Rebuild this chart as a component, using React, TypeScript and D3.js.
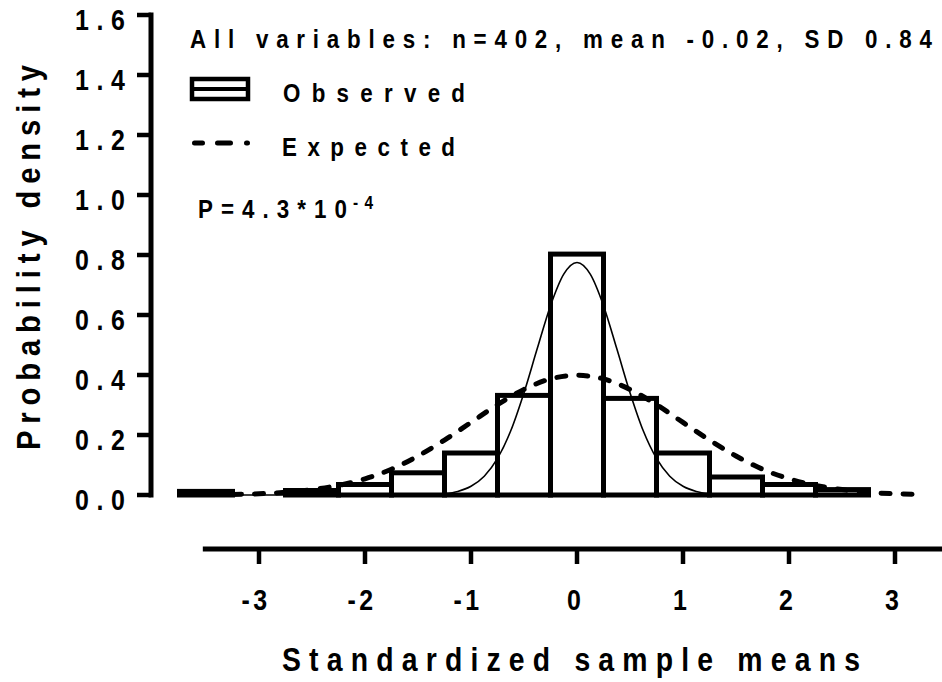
import React from "react";
import * as d3 from "d3";

// Histogram of standardized sample means (bin width 0.5)
const binCenters = [-3.5, -2.5, -2, -1.5, -1, -0.5, 0, 0.5, 1, 1.5, 2, 2.5];
const binDensity = [0.012, 0.015, 0.035, 0.074, 0.14, 0.332, 0.803, 0.322, 0.14, 0.06, 0.035, 0.018];

// Expected curve (standard normal density)
const expectedX = [-3.25, -3, -2.75, -2.5, -2.25, -2, -1.75, -1.5, -1.25, -1, -0.75, -0.5, -0.25, 0, 0.25, 0.5, 0.75, 1, 1.25, 1.5, 1.75, 2, 2.25, 2.5, 2.75, 3, 3.25];
const expectedY = [0.002, 0.004, 0.009, 0.018, 0.032, 0.054, 0.086, 0.13, 0.183, 0.242, 0.301, 0.352, 0.387, 0.399, 0.387, 0.352, 0.301, 0.242, 0.183, 0.13, 0.086, 0.054, 0.032, 0.018, 0.009, 0.004, 0.002];

// Fitted curve through the observed histogram
const fitX = [-3.5, -2.5, -2, -1.5, -1.375, -1.25, -1.125, -1, -0.875, -0.75, -0.625, -0.5, -0.375, -0.25, -0.125, 0, 0.125, 0.25, 0.375, 0.5, 0.625, 0.75, 0.875, 1, 1.125, 1.25, 1.375, 1.5, 2, 2.75];
const fitY = [0, 0, 0, 0.0005, 0.0015, 0.0045, 0.012, 0.029, 0.0625, 0.122, 0.214, 0.341, 0.488, 0.631, 0.736, 0.775, 0.736, 0.631, 0.488, 0.341, 0.214, 0.122, 0.0625, 0.029, 0.012, 0.0045, 0.0015, 0.0005, 0, 0];

const yTicks = [0, 0.2, 0.4, 0.6, 0.8, 1.0, 1.2, 1.4, 1.6];
const xTicks = [-3, -2, -1, 0, 1, 2, 3];

const titleText = "All variables: n=402, mean -0.02, SD 0.84";
const observedLabel = "Observed";
const expectedLabel = "Expected";
const pMain = "P=4.3*10";
const pExp = "-4";
const yTitle = "Probability density";
const xTitle = "Standardized sample means";

const W = 942;
const H = 682;
const FONT = "'Liberation Sans', Arial, Helvetica, sans-serif";
const SX = 0.86; // horizontal squeeze of the glyphs

// Bold text, squeezed horizontally and spread to a given overall width
function Label(props: {
  x: number;
  y: number;
  size: number;
  len?: number;
  anchor?: "start" | "middle" | "end";
  rotate?: number;
  spacing?: number;
  children: React.ReactNode;
}) {
  const { x, y, size, len, anchor = "start", rotate = 0, spacing = 0, children } = props;
  const t = `translate(${x},${y})${rotate ? ` rotate(${rotate})` : ""} scale(${SX},1)`;
  return (
    <text
      transform={t}
      fontSize={size}
      textAnchor={anchor}
      letterSpacing={spacing || undefined}
      textLength={len ? len / SX : undefined}
      lengthAdjust={len ? "spacing" : undefined}
    >
      {children}
    </text>
  );
}

export default function App() {
  const x = d3.scaleLinear().domain([-3, 3]).range([259, 895]);
  const y = d3.scaleLinear().domain([0, 1.6]).range([495, 15]);
  const half = 0.25;

  const line = d3
    .line<[number, number]>()
    .x((d) => x(d[0]))
    .y((d) => y(d[1]))
    .curve(d3.curveMonotoneX);

  const expectedPath = line(expectedX.map((v, i) => [v, expectedY[i]] as [number, number])) || "";
  const fitPath = line(fitX.map((v, i) => [v, fitY[i]] as [number, number])) || "";

  const axisX = 151;
  const xAxisY = 549;

  return (
    <svg
      width={W}
      height={H}
      style={{ position: "fixed", left: 0, top: 0, background: "#fff" }}
      fontFamily={FONT}
      fontWeight="bold"
    >
      <rect x={0} y={0} width={W} height={H} fill="#fff" />

      {/* bars */}
      <g>
        {binCenters.map((c, i) => (
          <rect
            key={i}
            x={x(c - half)}
            y={y(binDensity[i])}
            width={x(c + half) - x(c - half)}
            height={y(0) - y(binDensity[i])}
            fill="none"
            stroke="#000"
            strokeWidth={5}
          />
        ))}
      </g>

      {/* fitted and expected curves */}
      <path d={fitPath} fill="none" stroke="#000" strokeWidth={1.6} />
      <path
        d={expectedPath}
        fill="none"
        stroke="#000"
        strokeWidth={5}
        strokeDasharray="9 13"
        strokeLinecap="round"
      />

      {/* y axis */}
      <line x1={axisX} x2={axisX} y1={y(1.6) - 2.5} y2={y(0) + 2.5} stroke="#000" strokeWidth={5} />
      {yTicks.map((t) => (
        <g key={t}>
          <line x1={137} x2={axisX} y1={y(t)} y2={y(t)} stroke="#000" strokeWidth={4.5} />
          <Label x={75} y={y(t) + 15} size={29} len={50}>
            {t.toFixed(1)}
          </Label>
        </g>
      ))}

      {/* x axis */}
      <line x1={x(-3.53)} x2={W + 10} y1={xAxisY} y2={xAxisY} stroke="#000" strokeWidth={5} />
      {xTicks.map((t) => (
        <g key={t}>
          <line x1={x(t)} x2={x(t)} y1={xAxisY} y2={564} stroke="#000" strokeWidth={4.5} />
          <Label x={x(t) - 3} y={610} size={29} anchor="middle" spacing={t < 0 ? 4 : 0}>
            {String(t)}
          </Label>
        </g>
      ))}

      {/* axis titles */}
      <Label x={40} y={450} size={34} len={385} rotate={-90}>
        {yTitle}
      </Label>
      <Label x={282} y={671} size={33} len={578}>
        {xTitle}
      </Label>

      {/* header and legend */}
      <Label x={190} y={48} size={26} len={742}>
        {titleText}
      </Label>

      <rect x={192} y={79} width={56} height={20} fill="#fff" stroke="#000" strokeWidth={4.5} />
      <line x1={192} x2={248} y1={89} y2={89} stroke="#000" strokeWidth={4} />
      <Label x={283} y={102} size={26} len={182}>
        {observedLabel}
      </Label>

      <line
        x1={194.5}
        x2={248}
        y1={143}
        y2={143}
        stroke="#000"
        strokeWidth={5}
        strokeDasharray="8 15 13 16 1 100"
        strokeLinecap="round"
      />
      <Label x={282} y={156} size={26} len={173}>
        {expectedLabel}
      </Label>

      <Label x={198} y={218} size={26} len={149}>
        {pMain}
      </Label>
      <Label x={353} y={209} size={18} len={20}>
        {pExp}
      </Label>
    </svg>
  );
}
